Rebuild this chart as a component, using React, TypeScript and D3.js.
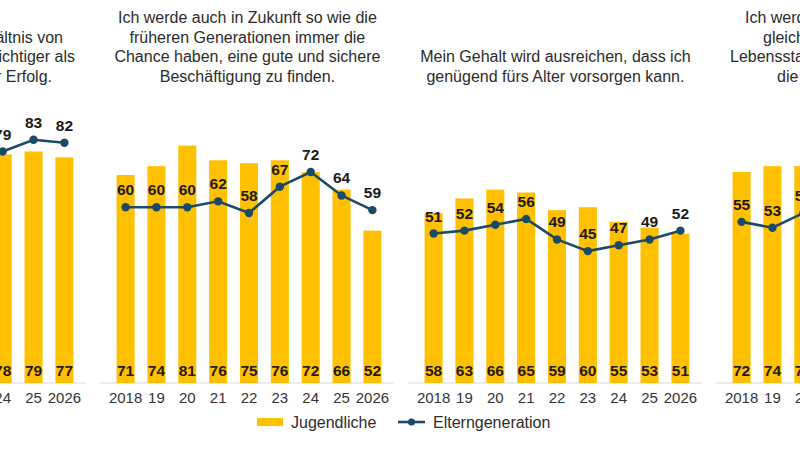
import * as d3 from 'd3';

// years on each panel's x axis
const years = ['2018', '19', '20', '21', '22', '23', '24', '25', '2026'];

// panel titles (outer panels are cut off by the picture edge)
const titleP1 = ['ältnis von', 'ichtiger als', 'r Erfolg.'];
const titleP2 = [
  'Ich werde auch in Zukunft so wie die',
  'früheren Generationen immer die',
  'Chance haben, eine gute und sichere',
  'Beschäftigung zu finden.',
];
const titleP3 = ['Mein Gehalt wird ausreichen, dass ich', 'genügend fürs Alter vorsorgen kann.'];
const titleP4 = ['Ich werd', 'gleich', 'Lebenssta', 'die'];

// Jugendliche (bars) and Elterngeneration (line), null = not visible
const jugendP1 = [null, null, null, null, null, null, 78, 79, 77];
const elternP1 = [null, null, null, null, null, null, 79, 83, 82];
const jugendP2 = [71, 74, 81, 76, 75, 76, 72, 66, 52];
const elternP2 = [60, 60, 60, 62, 58, 67, 72, 64, 59];
const jugendP3 = [58, 63, 66, 65, 59, 60, 55, 53, 51];
const elternP3 = [51, 52, 54, 56, 49, 45, 47, 49, 52];
const jugendP4 = [72, 74, 74, null, null, null, null, null, null];
const elternP4 = [55, 53, 58, null, null, null, null, null, null];

const W = 800;
const H = 450;
const BAR = '#FFC000';
const LINE = '#1b4a66';
const FONT = "'Liberation Sans', Arial, sans-serif";

const panelPitch = 308;
const firstPanelX = 110.4 - panelPitch;
const panelWidth = 277.2;

const y = d3.scaleLinear().domain([0, 100]).range([383, 90]);

interface PanelProps {
  index: number;
  title: string[];
  titleAnchor: 'start' | 'middle' | 'end';
  titleX: number[];
  bars: (number | null)[];
  line: (number | null)[];
}

function Panel({ index, title, titleAnchor, titleX, bars, line }: PanelProps) {
  const x0 = firstPanelX + index * panelPitch;
  const x = d3.scaleBand<string>().domain(years).range([x0, x0 + panelWidth]).paddingInner(0.415).paddingOuter(0.2);
  const cx = (i: number) => (x(years[i]) ?? 0) + x.bandwidth() / 2;

  const pts = line
    .map((v, i) => ({ v, i }))
    .filter((d): d is { v: number; i: number } => d.v !== null);
  const path = d3
    .line<{ v: number; i: number }>()
    .x((d) => cx(d.i))
    .y((d) => y(d.v))(pts);

  const lastBase = 82;
  return (
    <g>
      {title.map((t, i) => (
        <text
          key={i}
          x={titleAnchor === 'middle' ? x0 + 137 : titleX[i]}
          y={lastBase - (title.length - 1 - i) * 19.7}
          textAnchor={titleAnchor}
          fontSize={16}
          fill="#2b2b2b"
        >
          {t}
        </text>
      ))}
      <line x1={x0 - 10} x2={x0 + panelWidth + 6} y1={y(0)} y2={y(0)} stroke="#d9d9d9" strokeWidth={1} />
      {bars.map((v, i) =>
        v === null ? null : (
          <g key={i}>
            <rect x={x(years[i])} width={x.bandwidth()} y={y(v)} height={y(0) - y(v)} fill={BAR} />
            <text x={cx(i)} y={375.5} textAnchor="middle" fontSize={15.5} fontWeight="bold" fill="#1f1a10">
              {v}
            </text>
          </g>
        ),
      )}
      {years.map((yr, i) =>
        bars[i] === null && line[i] === null ? null : (
          <text key={yr} x={cx(i)} y={403} textAnchor="middle" fontSize={15} fill="#333">
            {yr}
          </text>
        ),
      )}
      <path d={path ?? ''} fill="none" stroke={LINE} strokeWidth={2.6} />
      {pts.map((d) => (
        <g key={d.i}>
          <circle cx={cx(d.i)} cy={y(d.v)} r={4.2} fill={LINE} />
          <text x={cx(d.i)} y={y(d.v) - 12} textAnchor="middle" fontSize={15.5} fontWeight="bold" fill="#1a1a1a">
            {d.v}
          </text>
        </g>
      ))}
    </g>
  );
}

export default function App() {
  return (
    <svg
      width={W}
      height={H}
      style={{ position: 'absolute', left: 0, top: 0, background: '#fff' }}
      fontFamily={FONT}
    >
      <rect width={W} height={H} fill="#fff" />
      <Panel index={0} title={titleP1} titleAnchor="end" titleX={[63, 75, 52]} bars={jugendP1} line={elternP1} />
      <Panel index={1} title={titleP2} titleAnchor="middle" titleX={[]} bars={jugendP2} line={elternP2} />
      <Panel index={2} title={titleP3} titleAnchor="middle" titleX={[]} bars={jugendP3} line={elternP3} />
      <Panel index={3} title={titleP4} titleAnchor="start" titleX={[745, 763, 730, 777]} bars={jugendP4} line={elternP4} />
      <g>
        <rect x={257} y={418} width={26} height={8} fill={BAR} />
        <text x={291} y={427.5} fontSize={16} fill="#2b2b2b">
          Jugendliche
        </text>
        <line x1={398} x2={425} y1={422} y2={422} stroke={LINE} strokeWidth={2.6} />
        <circle cx={411.5} cy={422} r={3.5} fill={LINE} />
        <text x={433} y={427.5} fontSize={16} fill="#2b2b2b">
          Elterngeneration
        </text>
      </g>
    </svg>
  );
}
